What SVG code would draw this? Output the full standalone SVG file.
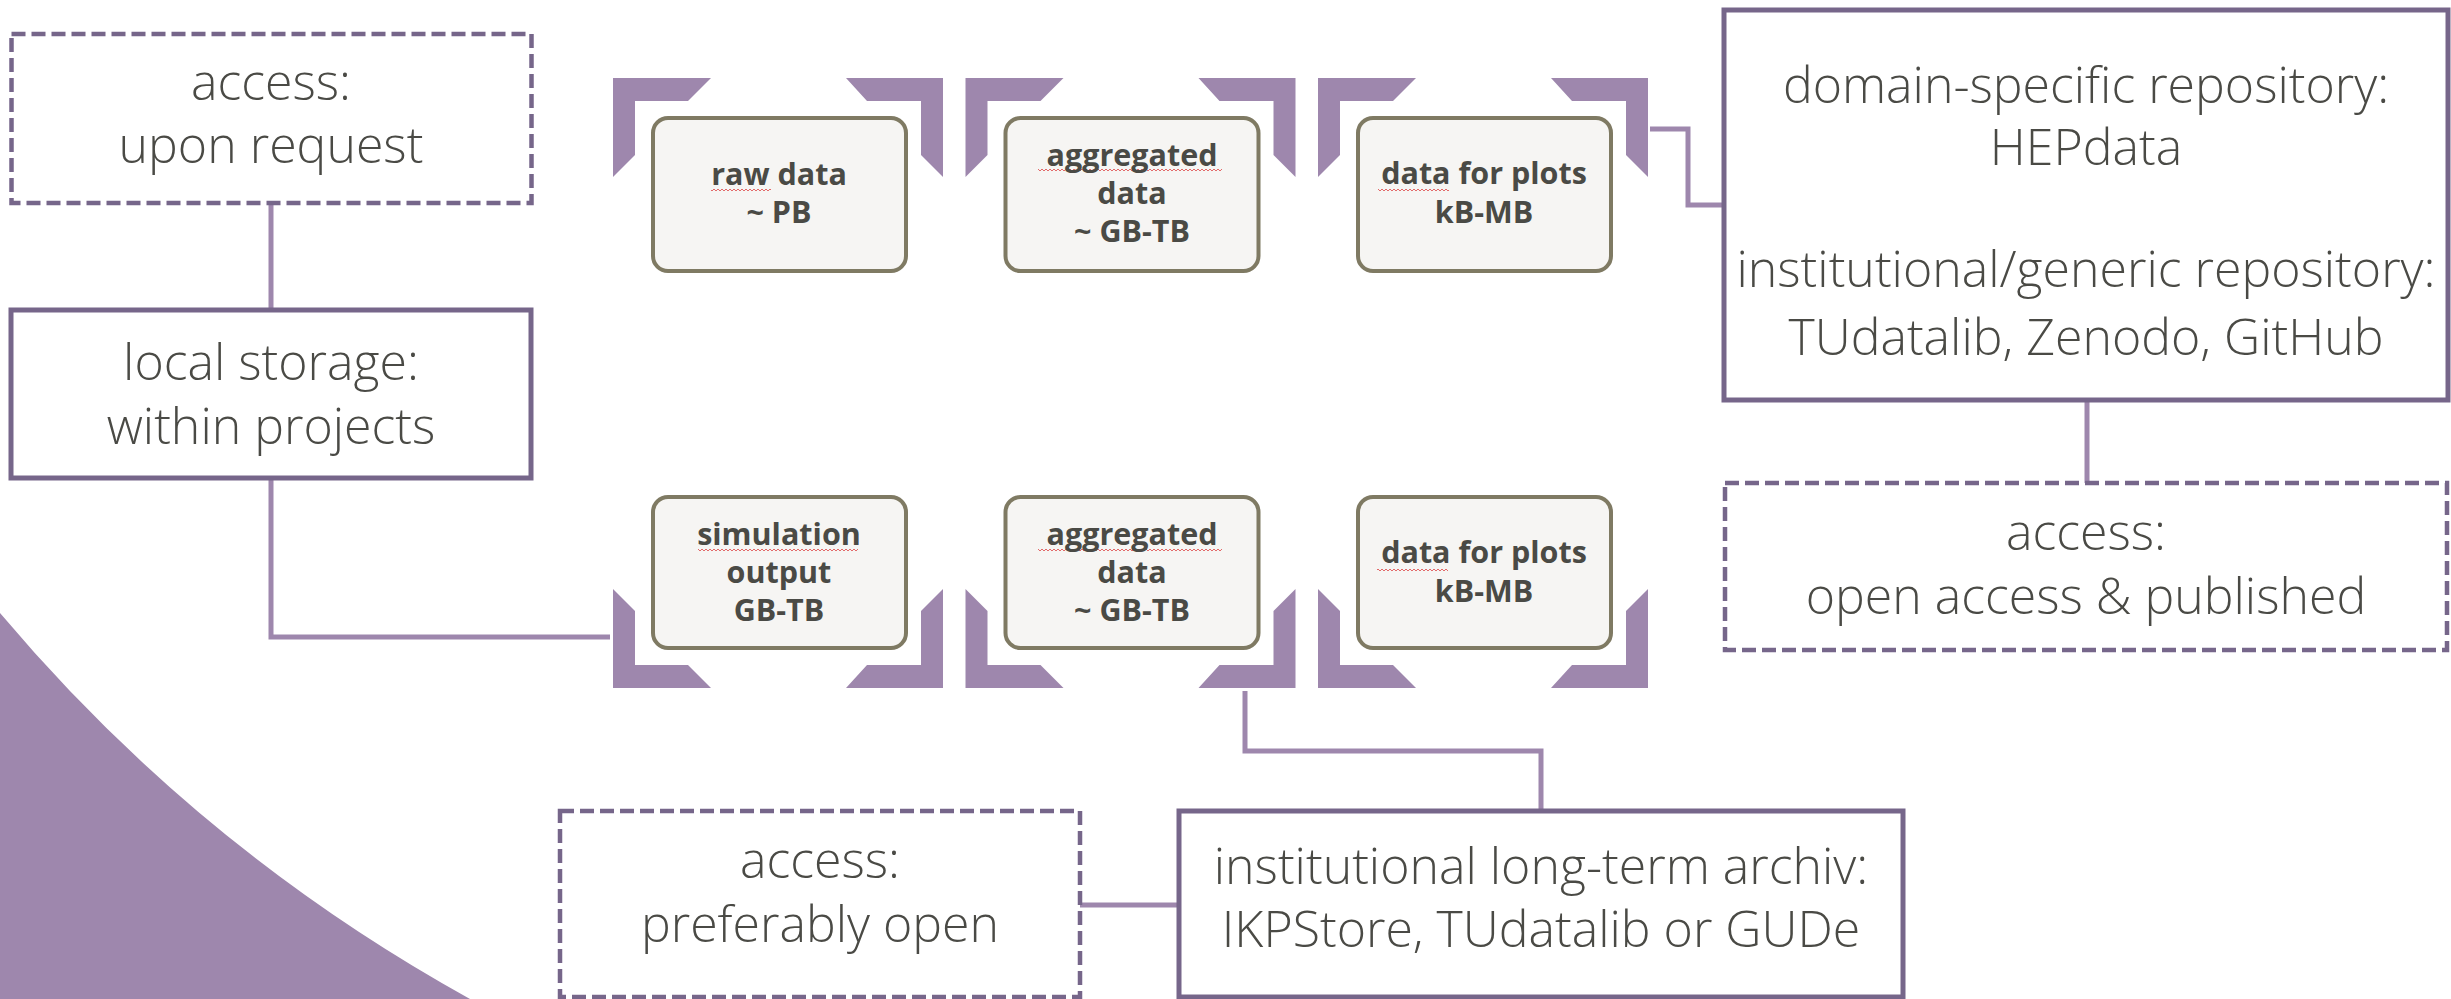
<svg xmlns="http://www.w3.org/2000/svg" width="2451" height="999" viewBox="0 0 2451 999">
<style>
.br{fill:#9e87ad}
.bg{fill:#9e87ad}
.box{fill:#f6f5f3;stroke:#7f7a63;stroke-width:4}
.solid{fill:#fff;stroke:#76668a;stroke-width:5}
.dash{fill:#fff;stroke:#76668a;stroke-width:4.5;stroke-dasharray:14 6}
.conn{fill:none;stroke:#9e87ad;stroke-width:5}
.t{font-family:"Open Sans","Liberation Sans",sans-serif;font-weight:300;font-size:50px;fill:#4a4a45;text-anchor:middle}
.b{font-family:"Open Sans","Liberation Sans",sans-serif;font-weight:700;font-size:30.5px;fill:#4a4a45;text-anchor:middle}
.sq{fill:url(#sq)}
</style>
<defs>
<pattern id="sq" x="0" y="0" width="4" height="4" patternUnits="userSpaceOnUse"><path d="M0,3 L2,1 L4,3" fill="none" stroke="#e05a5a" stroke-width="0.9"/></pattern>
<g id="topBr">
<polygon class="br" points="0,78 98,78 75,101 22,101 22,155 0,177"/>
<polygon class="br" points="330,78 233,78 254,101 308,101 308,155 330,177"/>
</g>
</defs>

<path id="quarter" class="bg" d="M0,613 A1675,1675 0 0 0 470,999 L0,999 Z"/>

<g id="brackets">
<use href="#topBr" transform="translate(613,0)"/>
<use href="#topBr" transform="translate(965.5,0)"/>
<use href="#topBr" transform="translate(1318,0)"/>
<use href="#topBr" transform="translate(613,766) scale(1,-1)"/>
<use href="#topBr" transform="translate(965.5,766) scale(1,-1)"/>
<use href="#topBr" transform="translate(1318,766) scale(1,-1)"/>
</g>

<g id="connectors">
<path class="conn" d="M271,204 V310"/>
<path class="conn" d="M271,478 V637 H610"/>
<path class="conn" d="M1650,129 H1688 V205 H1724"/>
<path class="conn" d="M2087,400 V483"/>
<path class="conn" d="M1245,691 V751 H1541 V811"/>
<path class="conn" d="M1080,905 H1179"/>
</g>

<g id="access-request">
<rect class="dash" x="11.5" y="34" width="520" height="169"/>
<text class="t" x="271" y="100">access:</text>
<text class="t" x="271" y="163">upon request</text>
</g>

<g id="local-storage">
<rect class="solid" x="11" y="310" width="520" height="168"/>
<text class="t" x="271" y="380">local storage:</text>
<text class="t" x="271" y="444">within projects</text>
</g>

<g id="raw-data">
<rect class="box" x="653" y="118" width="253" height="153" rx="15"/>
<rect class="sq" x="711" y="188" width="60" height="4"/>
<text class="b" x="779" y="185">raw data</text>
<text class="b" x="779" y="223">~ PB</text>
</g>

<g id="aggregated-top">
<rect class="box" x="1005.5" y="118" width="253" height="153" rx="15"/>
<rect class="sq" x="1038" y="168" width="184" height="4"/>
<text class="b" x="1132" y="166">aggregated</text>
<text class="b" x="1132" y="204">data</text>
<text class="b" x="1132" y="242">~ GB-TB</text>
</g>

<g id="plots-top">
<rect class="box" x="1358" y="118" width="253" height="153" rx="15"/>
<rect class="sq" x="1378" y="188" width="71" height="4"/>
<text class="b" x="1484" y="184">data for plots</text>
<text class="b" x="1484" y="223">kB-MB</text>
</g>

<g id="simulation">
<rect class="box" x="653" y="497" width="253" height="151" rx="15"/>
<rect class="sq" x="698" y="548" width="160" height="4"/>
<text class="b" x="779" y="545">simulation</text>
<text class="b" x="779" y="583">output</text>
<text class="b" x="779" y="621">GB-TB</text>
</g>

<g id="aggregated-bottom">
<rect class="box" x="1005.5" y="497" width="253" height="151" rx="15"/>
<rect class="sq" x="1038" y="548" width="184" height="4"/>
<text class="b" x="1132" y="545">aggregated</text>
<text class="b" x="1132" y="583">data</text>
<text class="b" x="1132" y="621">~ GB-TB</text>
</g>

<g id="plots-bottom">
<rect class="box" x="1358" y="497" width="253" height="151" rx="15"/>
<rect class="sq" x="1377" y="568" width="71" height="4"/>
<text class="b" x="1484" y="563">data for plots</text>
<text class="b" x="1484" y="602">kB-MB</text>
</g>

<g id="repository">
<rect class="solid" x="1724" y="10" width="724" height="390"/>
<text class="t" x="2086" y="103">domain-specific repository:</text>
<text class="t" x="2086" y="165">HEPdata</text>
<text class="t" x="2086" y="287">institutional/generic repository:</text>
<text class="t" x="2086" y="355">TUdatalib, Zenodo, GitHub</text>
</g>

<g id="access-open">
<rect class="dash" x="1725" y="483" width="722" height="167"/>
<text class="t" x="2086" y="550">access:</text>
<text class="t" x="2086" y="614">open access &amp; published</text>
</g>

<g id="access-preferably">
<rect class="dash" x="560" y="811" width="520" height="186"/>
<text class="t" x="820" y="878">access:</text>
<text class="t" x="820" y="942">preferably open</text>
</g>

<g id="archive">
<rect class="solid" x="1179" y="811" width="724" height="186"/>
<text class="t" x="1541" y="884">institutional long-term archiv:</text>
<text class="t" x="1541" y="947">IKPStore, TUdatalib or GUDe</text>
</g>
</svg>
